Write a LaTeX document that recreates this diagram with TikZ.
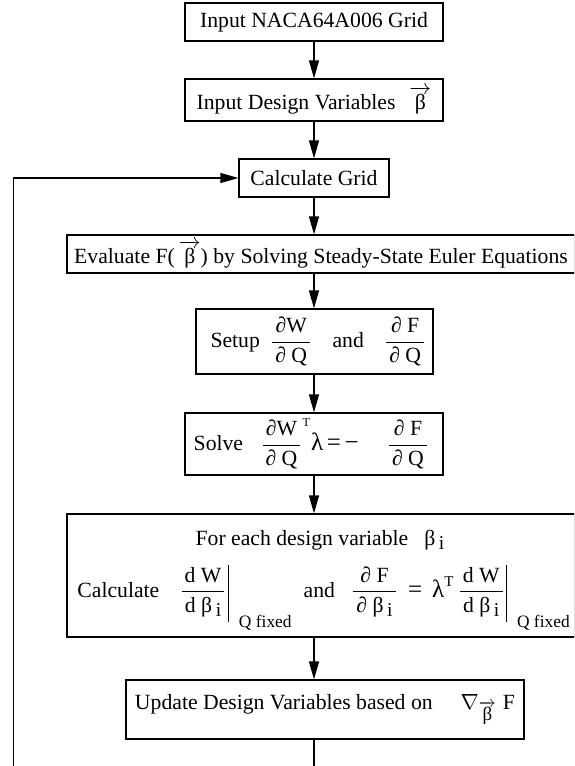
\documentclass[tikz,border=0pt]{standalone}
\usepackage{amsmath}
\usepackage{fontspec}
\setmainfont{Liberation Serif}
\usetikzlibrary{arrows.meta}
\newcommand{\myfrac}[2]{\dfrac{\mbox{\kern1.5pt#1\kern1.5pt}}{\mbox{\kern1.5pt#2\kern1.5pt}}}
\newcommand{\vbeta}{\ensuremath{\overrightarrow{\mbox{β}}}}
\newcommand{\betai}{β\,\raisebox{-.45ex}{\fontsize{9.8}{10}\selectfont i}}
\newcommand{\qfix}{\raisebox{-15pt}{\fontsize{8.7}{10}\selectfont Q fixed}}
\newcommand{\evbar}{\hspace{0.5pt}\rule[-12.5pt]{0.55pt}{28.5pt}}
\newcommand{\bigsym}[1]{{\fontsize{12.5}{13}\selectfont #1}}
\begin{document}
\begin{tikzpicture}[x=0.5pt,y=-0.5pt,
  box/.style={draw, line width=0.6pt, inner sep=0pt, align=center,
    font=\fontsize{10.85}{13}\selectfont},
  txt/.style={inner sep=0pt, font=\fontsize{10.85}{13}\selectfont},
  arr/.style={line width=0.6pt, -{Triangle[length=9pt,width=5pt]}}]
\useasboundingbox (0,0) rectangle (574,766);
\clip (0,0) rectangle (574,766);
\coordinate (ax) at (314,0);
\coordinate (lb) at (13.5,775);

\node[box, minimum width=129pt, minimum height=19pt] (b1) at (314,22) {Input NACA64A006 Grid};
\node[box, minimum width=129pt, minimum height=21pt] (b2) at (314,100) {Input Design Variables\hspace{7pt}\vbeta};
\node[box, minimum width=75pt, minimum height=19pt] (b3) at (314,178) {Calculate Grid};
\node[box, minimum width=254pt, minimum height=19pt] (b4) at (321,254) {Evaluate F(\kern2pt\vbeta) by Solving Steady-State Euler Equations};
\node[box, minimum width=118.5pt, minimum height=32.5pt] (b5) at (314.5,341.5)
  {\hspace{4pt}Setup\hspace{5pt}$\myfrac{∂W}{∂ Q}$\hspace{10pt}and\hspace{10pt}$\myfrac{∂ F}{∂ Q}$};
\node[box, minimum width=129pt, minimum height=31pt] (b6) at (314,444)
  {\hspace{-2.5pt}Solve\hspace{8.5pt}${\myfrac{∂W}{∂ Q}}^{\mbox{\fontsize{6}{7}\selectfont T}}\mbox{\bigsym{λ}}\,\mbox{\bigsym{=}}\,\mbox{\bigsym{−}}\hspace{14pt}\myfrac{∂ F}{∂ Q}$};
\node[box, minimum width=254pt, minimum height=61.5pt] (b7) at (321,575.5) {};
\node[txt, anchor=base] (t7a) at (320,545) {For each design variable\hspace{8pt}\betai};
\node[txt, anchor=base west] (t7b) at (77,597)
  {Calculate\hspace{10pt}$\myfrac{d W}{d \betai}$\evbar\hspace{5pt}\qfix\hspace{6pt}and\hspace{8pt}$\myfrac{∂ F}{∂ \betai}$\hspace{5pt}\bigsym{=}\hspace{5pt}\bigsym{λ}\raisebox{1.1ex}{\fontsize{7.5}{8}\selectfont T}\hspace{2pt}$\myfrac{d W}{d \betai}$\evbar\hspace{5pt}\qfix};
\node[box, minimum width=199pt, minimum height=29.5pt] (b8) at (325,709.5)
  {Update Design Variables based on\hspace{14pt}$\nabla_{\overrightarrow{\mbox{\fontsize{9.5}{10}\selectfont β}}}$\hspace{3pt}F};

\draw[arr] (b1.south -| ax) -- (b2.north -| ax);
\draw[arr] (b2.south -| ax) -- (b3.north -| ax);
\draw[arr] (b3.south -| ax) -- (b4.north -| ax);
\draw[arr] (b4.south -| ax) -- (b5.north -| ax);
\draw[arr] (b5.south -| ax) -- (b6.north -| ax);
\draw[arr] (b6.south -| ax) -- (b7.north -| ax);
\draw[arr] (b7.south -| ax) -- (b8.north -| ax);
\draw[arr] (b8.south -| ax) |- (lb) |- (b3.west);
\end{tikzpicture}
\end{document}
